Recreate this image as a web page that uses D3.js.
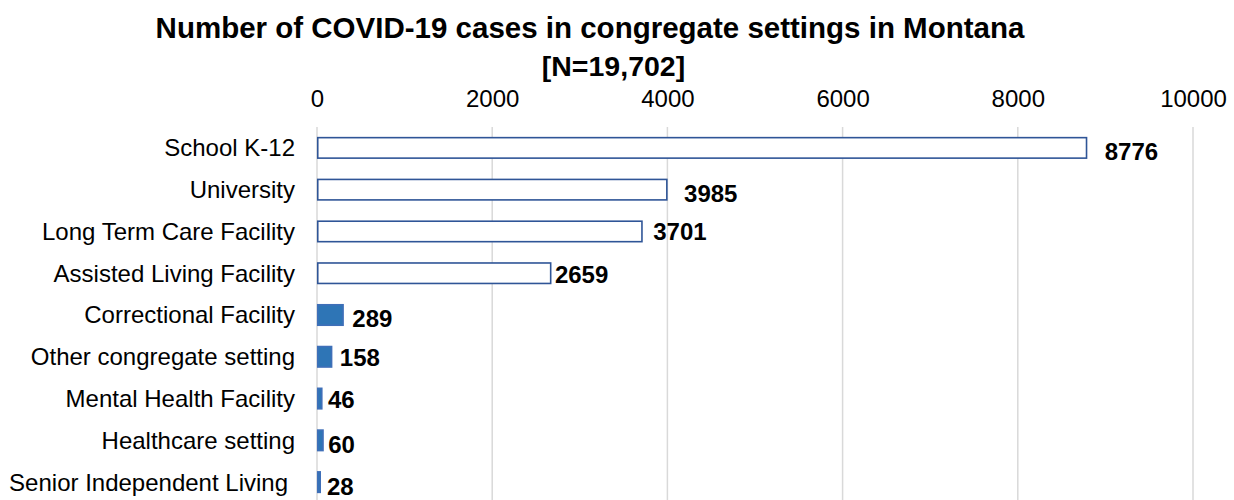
<!DOCTYPE html>
<html>
<head>
<meta charset="utf-8">
<script src="https://cdn.jsdelivr.net/npm/d3@7"></script>
<style>
  html, body { margin: 0; padding: 0; background: #fff; }
  svg { display: block; font-family: "Liberation Sans", Arial, sans-serif; }
</style>
</head>
<body>
<svg id="chart" width="1234" height="500"></svg>
<script>
// ---- data ----
const categories = [
  "School K-12",
  "University",
  "Long Term Care Facility",
  "Assisted Living Facility",
  "Correctional Facility",
  "Other congregate setting",
  "Mental Health Facility",
  "Healthcare setting",
  "Senior Independent Living"
];
const cases = [8776, 3985, 3701, 2659, 289, 158, 46, 60, 28];
const tickValues = [0, 2000, 4000, 6000, 8000, 10000];
const titleLines = ["Number of COVID-19 cases in congregate settings in Montana", "[N=19,702]"];

// ---- layout (label nudges as placed in the original) ----
const labelDx = [19, 18, 12, 5, 10, 9, 7, 6, 7.5];
const labelDy = [3.3, 4, 0.4, 1.5, 3.2, 1, 1.4, 4.3, 4];
const catDx = [0, 0, 0, 0, 0, 0, 0, 0, -7];

const svg = d3.select("#chart");

const x = d3.scaleLinear().domain([0, 10000]).range([317, 1193]);
const y = d3.scaleBand().domain(categories).range([127, 503])
  .paddingInner(0.51).paddingOuter(0.255);

// title
svg.append("text").attr("x", 590).attr("y", 37.5)
  .attr("text-anchor", "middle").attr("font-size", 29.5).attr("font-weight", "bold")
  .attr("fill", "#000").text(titleLines[0]);
svg.append("text").attr("x", 613.5).attr("y", 76)
  .attr("text-anchor", "middle").attr("font-size", 28.5).attr("font-weight", "bold")
  .attr("fill", "#000").text(titleLines[1]);

// gridlines
svg.append("g").selectAll("line").data(tickValues).join("line")
  .attr("x1", d => x(d)).attr("x2", d => x(d))
  .attr("y1", 127).attr("y2", 500)
  .attr("stroke", "#d9d9d9").attr("stroke-width", 1.5);

// top axis tick labels
const axis = d3.axisTop(x).tickValues(tickValues).tickFormat(d3.format("d")).tickSize(0).tickPadding(0);
const gAxis = svg.append("g").attr("transform", "translate(0,106.5)").call(axis);
gAxis.select(".domain").remove();
gAxis.selectAll("text").attr("font-size", 24).attr("fill", "#000")
  .attr("font-family", "'Liberation Sans', Arial, sans-serif").attr("dy", 0);

// category labels
const yAxis = d3.axisLeft(y).tickSize(0).tickPadding(0);
const gY = svg.append("g").attr("transform", "translate(295,0)").call(yAxis);
gY.select(".domain").remove();
gY.selectAll("text").attr("font-size", 24).attr("fill", "#000")
  .attr("font-family", "'Liberation Sans', Arial, sans-serif")
  .attr("dy", "0.35em")
  .attr("dx", (d, i) => catDx[i]);

// bars
const rows = categories.map((c, i) => ({ c, v: cases[i], i }));
svg.append("g").selectAll("rect").data(rows).join("rect")
  .attr("x", x(0) + 0.75)
  .attr("y", d => y(d.c))
  .attr("width", d => Math.max(1, x(d.v) - x(0)))
  .attr("height", y.bandwidth())
  .attr("fill", d => d.v >= 1000 ? "#ffffff" : "#2e75b6")
  .attr("stroke", d => d.v >= 1000 ? "#2f5597" : "#3f6fb8")
  .attr("stroke-width", 1.6);

// value labels
svg.append("g").selectAll("text").data(rows).join("text")
  .attr("x", d => x(d.v) + labelDx[d.i])
  .attr("y", d => y(d.c) + y.bandwidth() / 2 + labelDy[d.i])
  .attr("dy", "0.35em")
  .attr("font-size", 24).attr("font-weight", "bold").attr("fill", "#000")
  .text(d => d.v);
</script>
</body>
</html>
